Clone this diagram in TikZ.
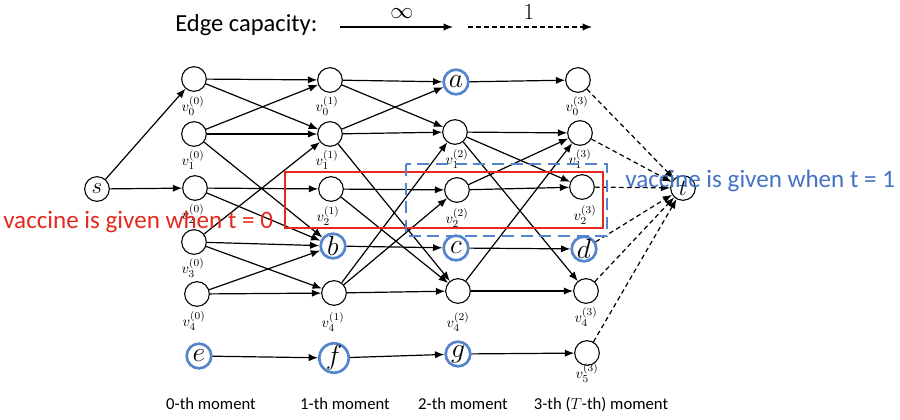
\documentclass[tikz,border=0pt]{standalone}
\usepackage{fontspec}
\setmainfont{Carlito}
\usetikzlibrary{arrows.meta}
\definecolor{vacred}{RGB}{230,40,30}
\definecolor{vacblue}{RGB}{68,114,196}
\definecolor{rimblue}{RGB}{84,132,204}
\tikzset{
  vtx/.style={circle,draw=black,line width=0.8pt,fill=white,minimum size=18.5pt,inner sep=0pt},
  vac/.style={vtx,draw=rimblue,line width=2pt,font=\fontsize{20}{20}\selectfont},
  src/.style={vtx,font=\fontsize{18}{18}\selectfont},
  lbl/.style={font=\fontsize{11}{11}\selectfont,inner sep=0pt},
  inf/.style={line width=0.9pt,-{Latex[length=7pt,width=5.5pt]}},
  unit/.style={line width=0.9pt,dash pattern=on 3.5pt off 2.5pt,-{Latex[length=7pt,width=5.5pt]}},
  moment/.style={font=\fontsize{12.5}{12.5}\selectfont,anchor=base},
  vactext/.style={font=\fontsize{18.8}{18.8}\selectfont,anchor=base west,inner sep=0pt}
}
\begin{document}
\begin{tikzpicture}[x=0.75pt,y=-0.75pt]
\useasboundingbox (0,0) rectangle (900,419);

% legend
\node[anchor=west,font=\fontsize{18.4}{18.4}\selectfont,inner sep=0pt] (legtxt) at (175,25) {Edge capacity:};
\coordinate (ia) at (340,27);
\coordinate (ib) at (453,27);
\coordinate (ua) at (468,27);
\coordinate (ub) at (592,27);
\draw[inf] (ia) -- (ib);
\draw[unit] (ua) -- (ub);
\node[font=\fontsize{16}{16}\selectfont,inner sep=0pt] (infsym) at (402,14) {$\infty$};
\node[font=\fontsize{16}{16}\selectfont,inner sep=0pt] (onesym) at (529,12) {$1$};

% source and sink
\node[src] (s) at (97,189) {$s$};
\node[src] (t) at (683,188) {$t$};

% 0-th moment
\node[vtx] (v00) at (194,79) {};
\node[vtx] (v10) at (194,134) {};
\node[vtx] (v20) at (195,188) {};
\node[vtx] (v30) at (194,242) {};
\node[vtx] (v40) at (197,294) {};
\node[vac] (e) at (199,356) {$e$};
% 1-th moment
\node[vtx] (v01) at (330,80) {};
\node[vtx] (v11) at (330,134) {};
\node[vtx] (v21) at (331,189) {};
\node[vac] (b) at (333,246) {$b$};
\node[vtx] (v41) at (334,293) {};
\node[vac] (f) at (334,358) {$f$};
% 2-th moment
\node[vac] (a) at (456,82) {$a$};
\node[vtx] (v12) at (455,132) {};
\node[vtx] (v22) at (457,190) {};
\node[vac] (c) at (456,248) {$c$};
\node[vtx] (v42) at (458,291) {};
\node[vac] (g) at (458,354) {$g$};
% 3-th moment
\node[vtx] (v03) at (578,80) {};
\node[vtx] (v13) at (580,133) {};
\node[vtx] (v23) at (582,187) {};
\node[vac] (d) at (584,249) {$d$};
\node[vtx] (v43) at (586,291) {};
\node[vtx] (v53) at (587,353) {};

% vertex labels
\node[lbl] (l00) at (193,106) {$v_0^{(0)}$};
\node[lbl] (l10) at (193,160) {$v_1^{(0)}$};
\node[lbl] (l20) at (193,214) {$v_2^{(0)}$};
\node[lbl] (l30) at (193,268) {$v_3^{(0)}$};
\node[lbl] (l40) at (194,321) {$v_4^{(0)}$};
\node[lbl] (l01) at (327,106) {$v_0^{(1)}$};
\node[lbl] (l11) at (327,160) {$v_1^{(1)}$};
\node[lbl] (l21) at (328,216) {$v_2^{(1)}$};
\node[lbl] (l41) at (333,322) {$v_4^{(1)}$};
\node[lbl] (l12) at (457,159) {$v_1^{(2)}$};
\node[lbl] (l22) at (457,218) {$v_2^{(2)}$};
\node[lbl] (l42) at (458,322) {$v_4^{(2)}$};
\node[lbl] (l03) at (577,106) {$v_0^{(3)}$};
\node[lbl] (l13) at (580,159) {$v_1^{(3)}$};
\node[lbl] (l23) at (585,215) {$v_2^{(3)}$};
\node[lbl] (l43) at (586,317) {$v_4^{(3)}$};
\node[lbl] (l53) at (587,373) {$v_5^{(3)}$};

% infinite-capacity edges
\draw[inf] (s) -- (v00);
\draw[inf] (s) -- (v20);
\foreach \u/\v in {v00/v01,v00/v11,v10/v01,v10/v11,v10/b,v20/v21,v20/b,v30/v11,v30/b,v30/v41,v40/b,v40/v41,e/f,
                   v01/a,v01/v12,v11/a,v11/v12,v11/v42,v21/v22,v21/v42,b/c,v41/v12,v41/v22,v41/v42,f/g,
                   a/v03,v12/v13,v12/v23,v12/v43,v22/v23,v22/v13,c/d,v42/v43,v42/v13,g/v53}
  \draw[inf] (\u) -- (\v);

% unit-capacity edges into the sink
\foreach \u in {v03,v13,v23,d,v43,v53}
  \draw[unit] (\u) -- (t);

% vaccination windows
\draw[vacred,line width=2pt] (285,172) rectangle (603,228);
\draw[rimblue,line width=2pt,dash pattern=on 9pt off 5pt] (406,164) rectangle (607,236);

\node[vactext,text=vacred] (vt0) at (3,228) {vaccine is given when t = 0};
\node[vactext,text=vacblue] (vt1) at (625,187) {vaccine is given when t = 1};

% time axis
\node[moment] (m0) at (211,409) {0-th moment};
\node[moment] (m1) at (345,409) {1-th moment};
\node[moment] (m2) at (463,409) {2-th moment};
\node[moment] (m3) at (601,409) {3-th ($T$-th) moment};
\end{tikzpicture}
\end{document}
